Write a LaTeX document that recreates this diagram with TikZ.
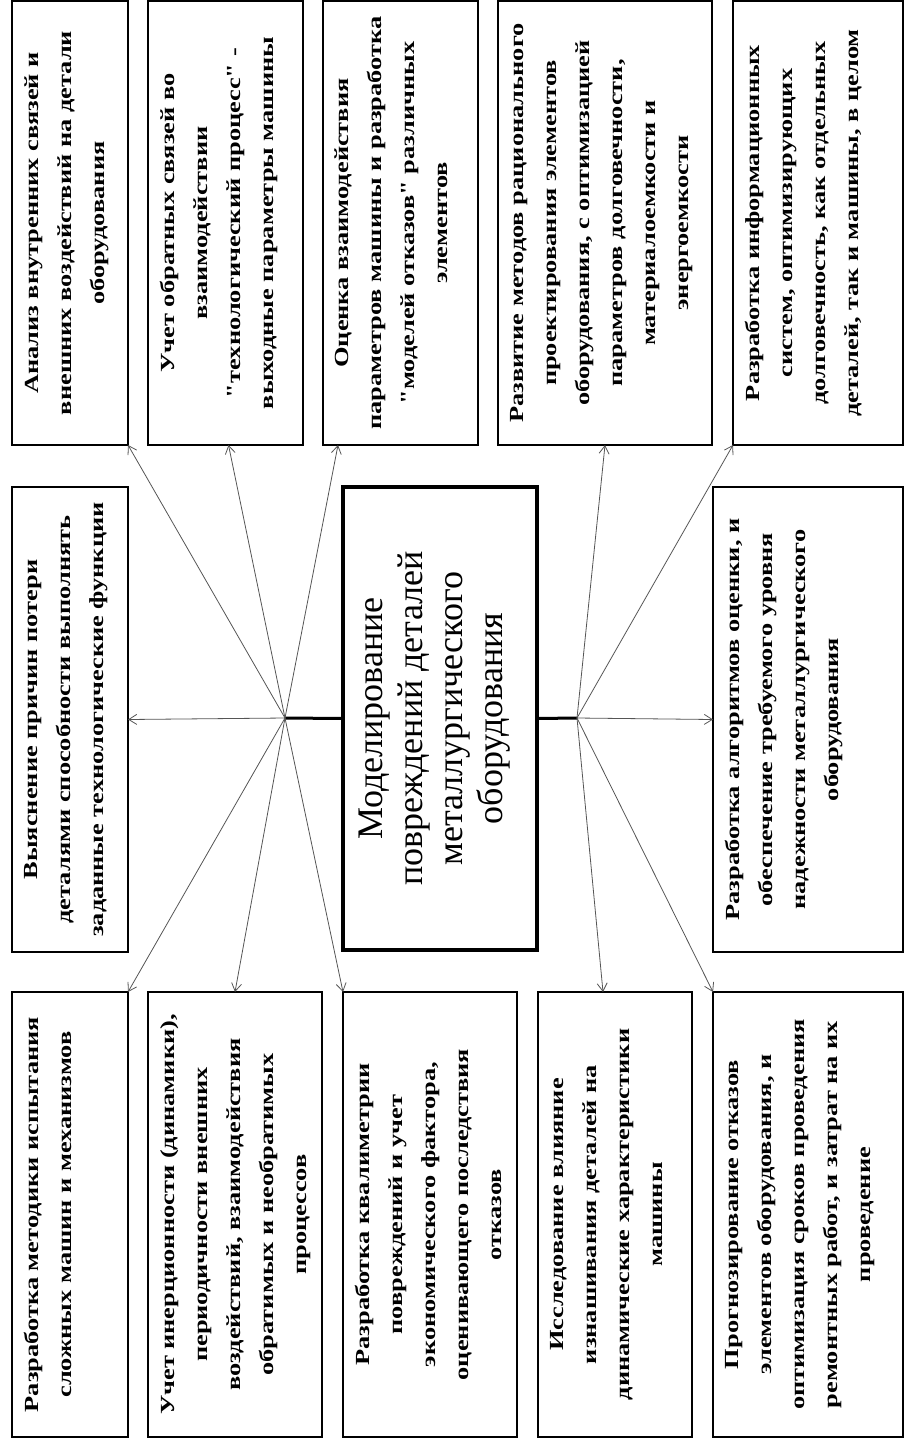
\documentclass[tikz,border=0pt]{standalone}
\usepackage{fontspec}
\setmainfont{Liberation Serif}
\newfontfamily\bx[FakeStretch=1.32]{Liberation Serif}
\usetikzlibrary{arrows.meta}
\definecolor{arrowgray}{RGB}{85,85,85}
\tikzset{
  boxnode/.style={draw=black, line width=2.5pt, inner sep=0pt, outer sep=0pt, fill=white},
  mainbox/.style={draw=black, line width=3.5pt, inner sep=0pt, outer sep=0pt, fill=white},
  txt/.style={rotate=90, anchor=north, inner sep=0pt, align=center,
    font=\bx\bfseries\fontsize{20}{33}\selectfont},
  maintxt/.style={rotate=90, anchor=center, inner sep=0pt, align=center,
    font=\fontsize{36}{40}\selectfont},
  conn/.style={draw=arrowgray, line width=0.8pt, -{Straight Barb[length=8pt,width=10pt,line width=0.8pt]}},
  stem/.style={draw=black, line width=3pt}
}
\begin{document}
\begin{tikzpicture}[x=1pt,y=-1pt]
\useasboundingbox (0,0) rectangle (905,1448);
% top row
\node[boxnode, minimum width=116pt, minimum height=444pt] (t1) at (70,223) {};
\node[boxnode, minimum width=155pt, minimum height=444pt] (t2) at (225.5,223) {};
\node[boxnode, minimum width=155pt, minimum height=444pt] (t3) at (400.5,223) {};
\node[boxnode, minimum width=214pt, minimum height=444pt] (t4) at (605,223) {};
\node[boxnode, minimum width=170pt, minimum height=444pt] (t5) at (818,223) {};
% middle row
\node[boxnode, minimum width=116pt, minimum height=465pt] (m1) at (70,719.5) {};
\node[mainbox, minimum width=194pt, minimum height=463pt] (c) at (440,718.5) {};
\node[boxnode, minimum width=190pt, minimum height=465pt] (m2) at (808,719.5) {};
% bottom row
\node[boxnode, minimum width=116pt, minimum height=445pt] (b1) at (70,1214.5) {};
\node[boxnode, minimum width=174pt, minimum height=445pt] (b2) at (235,1214.5) {};
\node[boxnode, minimum width=174pt, minimum height=445pt] (b3) at (430,1214.5) {};
\node[boxnode, minimum width=154pt, minimum height=445pt] (b4) at (615,1214.5) {};
\node[boxnode, minimum width=190pt, minimum height=445pt] (b5) at (808,1214.5) {};
% texts
\node[txt] (t1x) at ([xshift=13pt]t1.west) {Анализ внутренних связей и\\внешних воздействий на детали\\оборудования};
\node[txt] (t2x) at ([xshift=12pt]t2.west) {Учет обратных связей во\\взаимодействии\\"технологический процесс" -\\выходные параметры машины};
\node[txt] (t3x) at ([xshift=12pt]t3.west) {Оценка взаимодействия\\параметров машины и разработка\\"моделей отказов" различных\\элементов};
\node[txt] (t4x) at ([xshift=12pt]t4.west) {Развитие методов рационального\\проектирования элементов\\оборудования, с оптимизацией\\параметров долговечности,\\материалоемкости и\\энергоемкости};
\node[txt] (t5x) at ([xshift=12pt]t5.west) {Разработка информационных\\систем, оптимизирующих\\долговечность, как отдельных\\деталей, так и машины, в целом};
\node[txt] (m1x) at ([xshift=12pt]m1.west) {Выяснение причин потери\\деталями способности выполнять\\заданные технологические функции};
\node[maintxt] (cx) at ([xshift=-5pt]c.center) {Моделирование\\повреждений деталей\\металлургического\\оборудования};
\node[txt] (m2x) at ([xshift=12pt]m2.west) {Разработка алгоритмов оценки, и\\обеспечение требуемого уровня\\надежности металлургического\\оборудования};
\node[txt] (b1x) at ([xshift=12pt]b1.west) {Разработка методики испытания\\сложных машин и механизмов};
\node[txt] (b2x) at ([xshift=12pt]b2.west) {Учет инерционности (динамики),\\периодичности внешних\\воздействий, взаимодействия\\обратимых и необратимых\\процессов};
\node[txt] (b3x) at ([xshift=12pt]b3.west) {Разработка квалиметрии\\повреждений и учет\\экономического фактора,\\оценивающего последствия\\отказов};
\node[txt] (b4x) at ([xshift=12pt]b4.west) {Исследование влияние\\изнашивания деталей на\\динамические характеристики\\машины};
\node[txt] (b5x) at ([xshift=12pt]b5.west) {Прогнозирование отказов\\элементов оборудования, и\\оптимизация сроков проведения\\ремонтных работ, и затрат на их\\проведение};
% hubs
\coordinate (hubL) at (285,718);
\coordinate (hubR) at (577,718);
\draw[stem] (c.west) -- (hubL);
\draw[stem] (c.east) -- (hubR);
% connectors
\draw[conn] (hubL) -- (t1.south east);
\draw[conn] (hubL) -- ([xshift=3pt]t2.south);
\draw[conn] (hubL) -- ([xshift=15pt]t3.south west);
\draw[conn] (hubL) -- (m1.east);
\draw[conn] (hubL) -- (b1.north east);
\draw[conn] (hubL) -- (b2.north);
\draw[conn] (hubL) -- (b3.north west);
\draw[conn] (hubR) -- (t4.south);
\draw[conn] (hubR) -- (t5.south west);
\draw[conn] (hubR) -- (m2.west);
\draw[conn] (hubR) -- ([xshift=-12pt]b4.north);
\draw[conn] (hubR) -- (b5.north west);
\end{tikzpicture}
\end{document}
